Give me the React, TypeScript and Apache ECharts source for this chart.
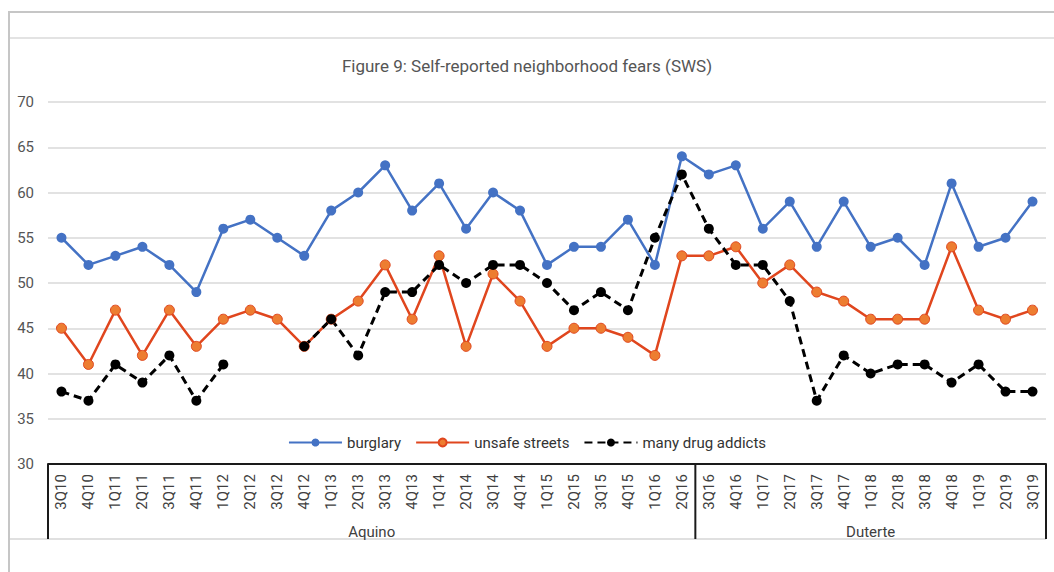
import React, { useEffect, useRef } from "react";
import * as echarts from "echarts";

const categories = [
  "3Q10", "4Q10",
  "1Q11", "2Q11", "3Q11", "4Q11",
  "1Q12", "2Q12", "3Q12", "4Q12",
  "1Q13", "2Q13", "3Q13", "4Q13",
  "1Q14", "2Q14", "3Q14", "4Q14",
  "1Q15", "2Q15", "3Q15", "4Q15",
  "1Q16", "2Q16",
  "3Q16", "4Q16",
  "1Q17", "2Q17", "3Q17", "4Q17",
  "1Q18", "2Q18", "3Q18", "4Q18",
  "1Q19", "2Q19", "3Q19",
];

const burglary = [
  55, 52, 53, 54, 52, 49, 56, 57, 55, 53, 58, 60, 63, 58, 61, 56, 60, 58, 52, 54,
  54, 57, 52, 64, 62, 63, 56, 59, 54, 59, 54, 55, 52, 61, 54, 55, 59,
];

const unsafeStreets = [
  45, 41, 47, 42, 47, 43, 46, 47, 46, 43, 46, 48, 52, 46, 53, 43, 51, 48, 43, 45,
  45, 44, 42, 53, 53, 54, 50, 52, 49, 48, 46, 46, 46, 54, 47, 46, 47,
];

const drugAddicts: (number | null)[] = [
  38, 37, 41, 39, 42, 37, 41, null, null, 43, 46, 42, 49, 49, 52, 50, 52, 52, 50, 47,
  49, 47, 55, 62, 56, 52, 52, 48, 37, 42, 40, 41, 41, 39, 41, 38, 38,
];

const groups = [
  { name: "Aquino", start: 0, end: 23 },
  { name: "Duterte", start: 24, end: 36 },
];

const FONT = "Roboto, 'Noto Sans', sans-serif";

export default function App() {
  const ref = useRef<HTMLDivElement>(null);

  useEffect(() => {
    if (!ref.current) return;
    const chart = echarts.init(ref.current, null, { renderer: "svg" });
    chart.setOption({
      animation: false,
      backgroundColor: "#ffffff",
      textStyle: { fontFamily: FONT },
      title: {
        text: "Figure 9: Self-reported neighborhood fears (SWS)",
        left: "center",
        top: 52,
        textStyle: { fontSize: 17, fontWeight: "normal", color: "#555555", fontFamily: FONT },
      },
      legend: {
        top: 430,
        left: "center",
        itemWidth: 53,
        itemHeight: 10,
        itemGap: 14,
        textStyle: { fontSize: 15, color: "#333333", fontFamily: FONT },
        data: ["burglary", "unsafe streets", "many drug addicts"],
      },
      grid: { left: 48, right: 8, top: 102, bottom: 108, containLabel: false },
      xAxis: {
        type: "category",
        data: categories,
        boundaryGap: true,
        axisLine: { show: true, lineStyle: { color: "#1a1a1a", width: 2 } },
        axisTick: { show: false },
        axisLabel: {
          rotate: 90,
          margin: 10,
          interval: 0,
          fontSize: 15,
          color: "#404040",
          fontFamily: FONT,
        },
      },
      yAxis: {
        type: "value",
        min: 30,
        max: 70,
        interval: 5,
        axisLine: { show: false },
        axisTick: { show: false },
        axisLabel: { fontSize: 15, color: "#555555", margin: 14, fontFamily: FONT },
        splitLine: { lineStyle: { color: "#d9d9d9", width: 1.5 } },
      },
      series: [
        {
          name: "burglary",
          type: "line",
          data: burglary,
          symbol: "circle",
          symbolSize: 10,
          lineStyle: { color: "#4472C4", width: 2.5 },
          itemStyle: { color: "#4472C4" },
        },
        {
          name: "unsafe streets",
          type: "line",
          data: unsafeStreets,
          symbol: "circle",
          symbolSize: 10,
          lineStyle: { color: "#E0461E", width: 2.5 },
          itemStyle: { color: "#ED7D31", borderColor: "#E0461E", borderWidth: 1 },
        },
        {
          name: "many drug addicts",
          type: "line",
          data: drugAddicts,
          connectNulls: false,
          symbol: "circle",
          symbolSize: 10,
          lineStyle: { color: "#000000", width: 3, type: [8, 5] },
          itemStyle: { color: "#000000" },
        },
      ],
    });

    const px = (i: number) => chart.convertToPixel({ xAxisIndex: 0 }, i) as number;
    const yTop = chart.convertToPixel({ yAxisIndex: 0 }, 30) as number;
    const step = px(1) - px(0);
    const yBottom = yTop + 75;
    const bounds = [
      px(0) - step / 2,
      (px(groups[0].end) + px(groups[1].start)) / 2,
      px(categories.length - 1) + step / 2,
    ];

    const graphics: any[] = [
      { type: "line", shape: { x1: 9, y1: 12, x2: 1054, y2: 12 }, style: { stroke: "#c6c6c6", lineWidth: 2 } },
      { type: "line", shape: { x1: 9, y1: 11, x2: 9, y2: 572 }, style: { stroke: "#c6c6c6", lineWidth: 2 } },
      { type: "line", shape: { x1: 10, y1: 38, x2: 1054, y2: 38 }, style: { stroke: "#e3e3e3", lineWidth: 2 } },
      { type: "line", shape: { x1: 10, y1: yBottom, x2: bounds[2], y2: yBottom }, style: { stroke: "#e0e0e0", lineWidth: 2 } },
    ];
    bounds.forEach((x) => {
      graphics.push({
        type: "line",
        shape: { x1: x, y1: yTop, x2: x, y2: yBottom },
        style: { stroke: "#1a1a1a", lineWidth: 2 },
        z: 10,
      });
    });
    groups.forEach((g, gi) => {
      const cx = (bounds[gi] + bounds[gi + 1]) / 2;
      graphics.push({
        type: "text",
        x: cx,
        y: yBottom - 7,
        style: {
          text: g.name,
          fontSize: 15,
          fill: "#404040",
          fontFamily: FONT,
          align: "center",
          verticalAlign: "middle",
        },
      });
    });
    chart.setOption({ graphic: graphics });

    return () => chart.dispose();
  }, []);

  return (
    <div
      ref={ref}
      style={{ position: "fixed", left: 0, top: 0, width: 1054, height: 572 }}
    />
  );
}
